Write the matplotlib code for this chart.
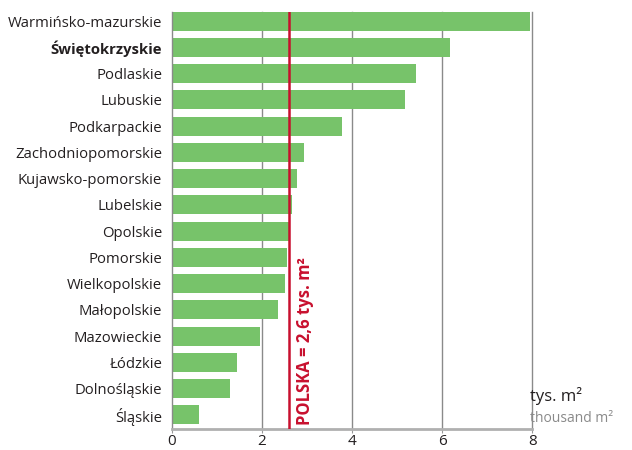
import matplotlib.pyplot as plt

regions = [
    "Warmińsko-mazurskie", "Świętokrzyskie", "Podlaskie", "Lubuskie",
    "Podkarpackie", "Zachodniopomorskie", "Kujawsko-pomorskie", "Lubelskie",
    "Opolskie", "Pomorskie", "Wielkopolskie", "Małopolskie", "Mazowieckie",
    "Łódzkie", "Dolnośląskie", "Śląskie",
]
values = [7.95, 6.18, 5.42, 5.18, 3.78, 2.93, 2.78, 2.67,
          2.6, 2.56, 2.51, 2.36, 1.96, 1.44, 1.29, 0.6]
poland = 2.6
xticks = [0, 2, 4, 6, 8]

plt.rcParams['font.family'] = ['Open Sans', 'DejaVu Sans']

fig = plt.figure(figsize=(6.32, 4.5), dpi=100)
ax = fig.add_axes([0.272, 0.047, 0.570, 0.926])

ypos = list(range(len(regions)))
ax.barh(ypos, values, height=0.72, color='#77c36a', zorder=2)
ax.set_ylim(15.53, -0.34)
ax.set_xlim(0, 8)

ax.set_yticks(ypos)
ax.set_yticklabels(regions, fontsize=10.7, color='#231f20')
ax.get_yticklabels()[1].set_fontweight('bold')
ax.tick_params(axis='y', length=0, pad=7)

ax.set_xticks(xticks)
ax.set_xticklabels([str(t) for t in xticks], fontsize=11, color='#231f20')
ax.tick_params(axis='x', length=3, color='#999999', pad=1)

for t in xticks[1:]:
    ax.axvline(t, color='#8a8a8a', lw=1.0, zorder=1, clip_on=False)

for s in ['top', 'right']:
    ax.spines[s].set_visible(False)
ax.spines['left'].set_color('#8a8a8a')
ax.spines['left'].set_linewidth(1.0)
ax.spines['bottom'].set_color('#b0b0b0')
ax.spines['bottom'].set_linewidth(2.0)

# national average
ax.axvline(poland, color='#c8102e', lw=1.8, zorder=3)
ax.text(poland + 0.15, 15.4, "POLSKA = 2,6 tys. m²", rotation=90,
        color='#c8102e', fontsize=12, fontweight='bold',
        ha='left', va='bottom', zorder=4)

fig.text(0.839, 0.119, "tys. m²", fontsize=12, color='#231f20', ha='left', va='center')
fig.text(0.839, 0.071, "thousand m²", fontsize=10, color='#8a8a8a', ha='left', va='center')

fig.savefig('out.png', dpi=100)
